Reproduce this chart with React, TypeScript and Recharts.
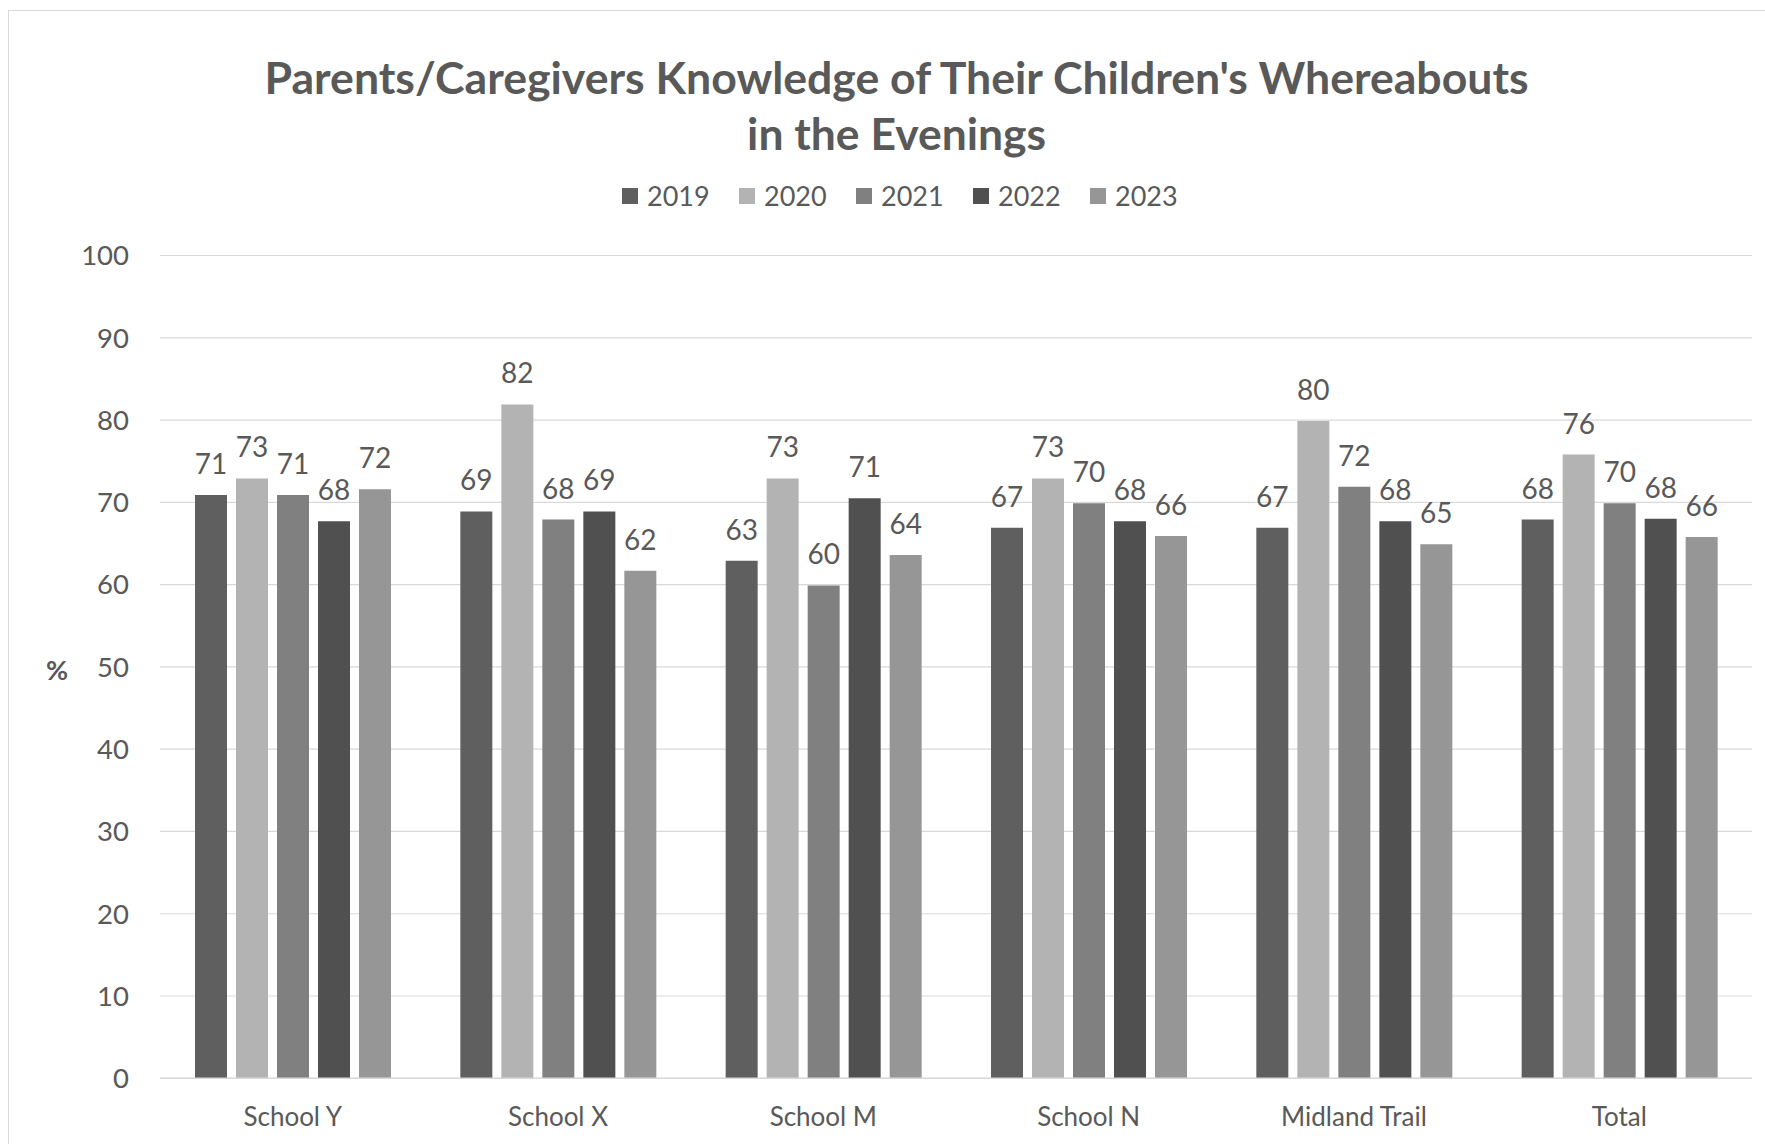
import React from 'react';
import { BarChart, Bar, XAxis, YAxis, CartesianGrid, Legend, LabelList } from 'recharts';

const categories = ['School Y', 'School X', 'School M', 'School N', 'Midland Trail', 'Total'];
const years = ['2019', '2020', '2021', '2022', '2023'];
const colors = ['#5f5f5f', '#b3b3b3', '#808080', '#505050', '#969696'];

const v2019 = [70.9, 68.9, 62.9, 66.9, 66.9, 67.9];
const v2020 = [72.9, 81.9, 72.9, 72.9, 79.9, 75.8];
const v2021 = [70.9, 67.9, 59.9, 69.9, 71.9, 69.9];
const v2022 = [67.7, 68.9, 70.5, 67.7, 67.7, 68.0];
const v2023 = [71.6, 61.7, 63.6, 65.9, 64.9, 65.8];
const seriesValues = [v2019, v2020, v2021, v2022, v2023];

const yTicks = [0, 10, 20, 30, 40, 50, 60, 70, 80, 90, 100];

const titleLines = ["Parents/Caregivers Knowledge of Their Children's Whereabouts", 'in the Evenings'];

const TEXT = '#595959';
const GRID = '#d9d9d9';

const data = categories.map((name, i) => {
    const row: { [key: string]: string | number } = { name };
    years.forEach((y, s) => {
        row[y] = seriesValues[s][i];
    });
    return row;
});

const renderLegend = () => (
    <div style={{ display: 'flex', fontFamily: 'Lato', fontSize: 27, color: TEXT }}>
        {years.map((y, i) => (
            <div key={y} style={{ width: 117, display: 'flex', alignItems: 'center' }}>
                <span style={{ width: 16, height: 16, background: colors[i], marginRight: 9, display: 'inline-block' }} />
                <span>{y}</span>
            </div>
        ))}
    </div>
);

const App: React.FC = () => {
    return (
        <div style={{ position: 'fixed', left: 0, top: 0, width: 1765, height: 1144, overflow: 'hidden', background: '#fff' }}>
            {/* chart frame, runs off the right and bottom edge */}
            <div style={{ position: 'absolute', left: 8, top: 10, width: 1800, height: 1200, border: `1.5px solid ${GRID}` }} />

            <div style={{ position: 'absolute', left: 0, top: 0 }}>
                <BarChart
                    width={1765}
                    height={1144}
                    data={data}
                    margin={{ top: 255.5, right: 13, bottom: 25.7, left: 80 }}
                    barGap={9}
                    style={{ fontFamily: 'Lato' }}
                >
                    <CartesianGrid vertical={false} stroke={GRID} strokeWidth={1.2} />
                    <XAxis
                        dataKey="name"
                        interval={0}
                        height={40}
                        tickLine={false}
                        tickSize={0}
                        tickMargin={29}
                        axisLine={{ stroke: GRID, strokeWidth: 1.5 }}
                        tick={{ fill: TEXT, fontSize: 26 }}
                    />
                    <YAxis
                        width={80}
                        domain={[0, 100]}
                        ticks={yTicks}
                        axisLine={false}
                        tickLine={false}
                        tickSize={0}
                        tickMargin={31}
                        tick={{ fill: TEXT, fontSize: 27.5 }}
                    />
                    <Legend
                        verticalAlign="middle"
                        align="center"
                        layout="horizontal"
                        content={renderLegend}
                        wrapperStyle={{ top: 179, left: 622, width: 700, height: 32 }}
                    />
                    {years.map((y, i) => (
                        <Bar key={y} dataKey={y} fill={colors[i]} barSize={32} isAnimationActive={false}>
                            <LabelList
                                dataKey={y}
                                position="top"
                                offset={21}
                                fill={TEXT}
                                fontSize={28}
                                formatter={(v: any) => Math.round(Number(v))}
                            />
                        </Bar>
                    ))}
                </BarChart>
            </div>

            <svg width={1765} height={1144} style={{ position: 'absolute', left: 0, top: 0, pointerEvents: 'none' }}>
                <text x={896.6} y={93.5} textAnchor="middle" fill={TEXT} fontFamily="Lato" fontWeight="bold" fontSize={43}
                    textLength={1264} lengthAdjust="spacingAndGlyphs">
                    {titleLines[0]}
                </text>
                <text x={896.6} y={150} textAnchor="middle" fill={TEXT} fontFamily="Lato" fontWeight="bold" fontSize={43}
                    textLength={299} lengthAdjust="spacingAndGlyphs">
                    {titleLines[1]}
                </text>
                <text x={57} y={669} textAnchor="middle" dominantBaseline="central" fill={TEXT} fontFamily="Lato" fontWeight="bold" fontSize={27}>
                    %
                </text>
            </svg>
        </div>
    );
};

export default App;
